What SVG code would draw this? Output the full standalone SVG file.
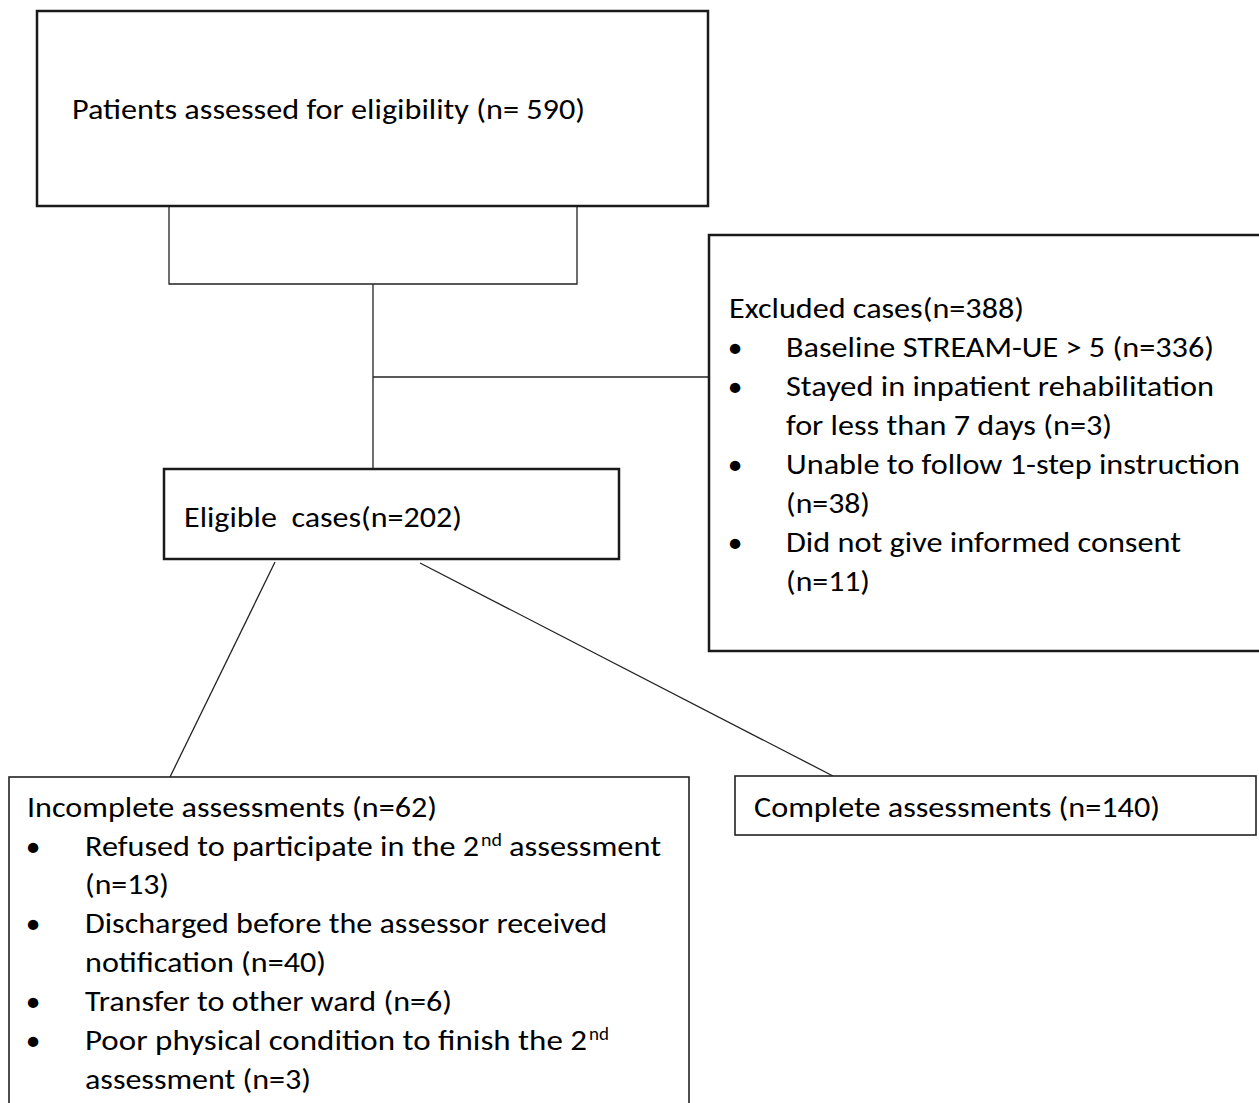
<svg xmlns="http://www.w3.org/2000/svg" width="1259" height="1103" viewBox="0 0 1259 1103">
<style>
.box{fill:#fff;stroke:#1a1a1a;stroke-width:2.5}
.thin{fill:#fff;stroke:#222;stroke-width:1.6}
.conn line,.conn polyline{stroke:#222;stroke-width:1.3;fill:none}
text{font-family:Carlito,"Liberation Sans",Arial,sans-serif;font-size:29.5px;fill:#000}
.sup{font-size:18px}
.bul{text-anchor:middle}
</style>
<rect width="1259" height="1103" fill="#fff"/>
<g id="connectors" class="conn">
<polyline points="169,206 169,284 577,284 577,206"/>
<line x1="373" y1="284" x2="373" y2="469"/>
<line x1="373" y1="377" x2="709" y2="377"/>
<line x1="275" y1="562" x2="170" y2="777"/>
<line x1="420" y1="563" x2="833" y2="776"/>
</g>
<g id="node-assessed">
<rect class="box" x="37" y="11" width="671" height="195"/>
<text x="72" y="119" textLength="513" lengthAdjust="spacingAndGlyphs">Patients assessed for eligibility (n= 590)</text>
</g>
<g id="node-excluded">
<rect class="box" x="709" y="235" width="560" height="416"/>
<text x="729" y="318" textLength="295" lengthAdjust="spacingAndGlyphs">Excluded cases(n=388)</text>
<text class="bul" x="735" y="357">•</text>
<text x="786" y="357" textLength="428" lengthAdjust="spacingAndGlyphs">Baseline STREAM-UE &gt; 5 (n=336)</text>
<text class="bul" x="735" y="396">•</text>
<text x="786" y="396" textLength="428" lengthAdjust="spacingAndGlyphs">Stayed in inpatient rehabilitation</text>
<text x="786" y="435" textLength="326" lengthAdjust="spacingAndGlyphs">for less than 7 days (n=3)</text>
<text class="bul" x="735" y="474">•</text>
<text x="786" y="474" textLength="454" lengthAdjust="spacingAndGlyphs">Unable to follow 1-step instruction</text>
<text x="786" y="513" textLength="84" lengthAdjust="spacingAndGlyphs">(n=38)</text>
<text class="bul" x="735" y="552">•</text>
<text x="786" y="552" textLength="395" lengthAdjust="spacingAndGlyphs">Did not give informed consent</text>
<text x="786" y="591" textLength="84" lengthAdjust="spacingAndGlyphs">(n=11)</text>
</g>
<g id="node-eligible">
<rect class="box" x="164" y="469" width="455" height="90"/>
<text x="184" y="527" textLength="278" lengthAdjust="spacingAndGlyphs" xml:space="preserve">Eligible  cases(n=202)</text>
</g>
<g id="node-incomplete">
<rect class="thin" x="9" y="777" width="680" height="340"/>
<text x="27" y="817" textLength="410" lengthAdjust="spacingAndGlyphs">Incomplete assessments (n=62)</text>
<text class="bul" x="33" y="856">•</text>
<text x="85" y="856" textLength="394" lengthAdjust="spacingAndGlyphs">Refused to participate in the 2</text>
<text class="sup" x="481" y="846" textLength="21" lengthAdjust="spacingAndGlyphs">nd</text>
<text x="509" y="856" textLength="152" lengthAdjust="spacingAndGlyphs">assessment</text>
<text x="85" y="894" textLength="84" lengthAdjust="spacingAndGlyphs">(n=13)</text>
<text class="bul" x="33" y="933">•</text>
<text x="85" y="933" textLength="522" lengthAdjust="spacingAndGlyphs">Discharged before the assessor received</text>
<text x="85" y="972" textLength="241" lengthAdjust="spacingAndGlyphs">notification (n=40)</text>
<text class="bul" x="33" y="1011">•</text>
<text x="85" y="1011" textLength="367" lengthAdjust="spacingAndGlyphs">Transfer to other ward (n=6)</text>
<text class="bul" x="33" y="1050">•</text>
<text x="85" y="1050" textLength="502" lengthAdjust="spacingAndGlyphs">Poor physical condition to finish the 2</text>
<text class="sup" x="589" y="1040" textLength="20" lengthAdjust="spacingAndGlyphs">nd</text>
<text x="85" y="1089" textLength="226" lengthAdjust="spacingAndGlyphs">assessment (n=3)</text>
</g>
<g id="node-complete">
<rect class="thin" x="735" y="776" width="521" height="59"/>
<text x="754" y="817" textLength="406" lengthAdjust="spacingAndGlyphs">Complete assessments (n=140)</text>
</g>
</svg>
